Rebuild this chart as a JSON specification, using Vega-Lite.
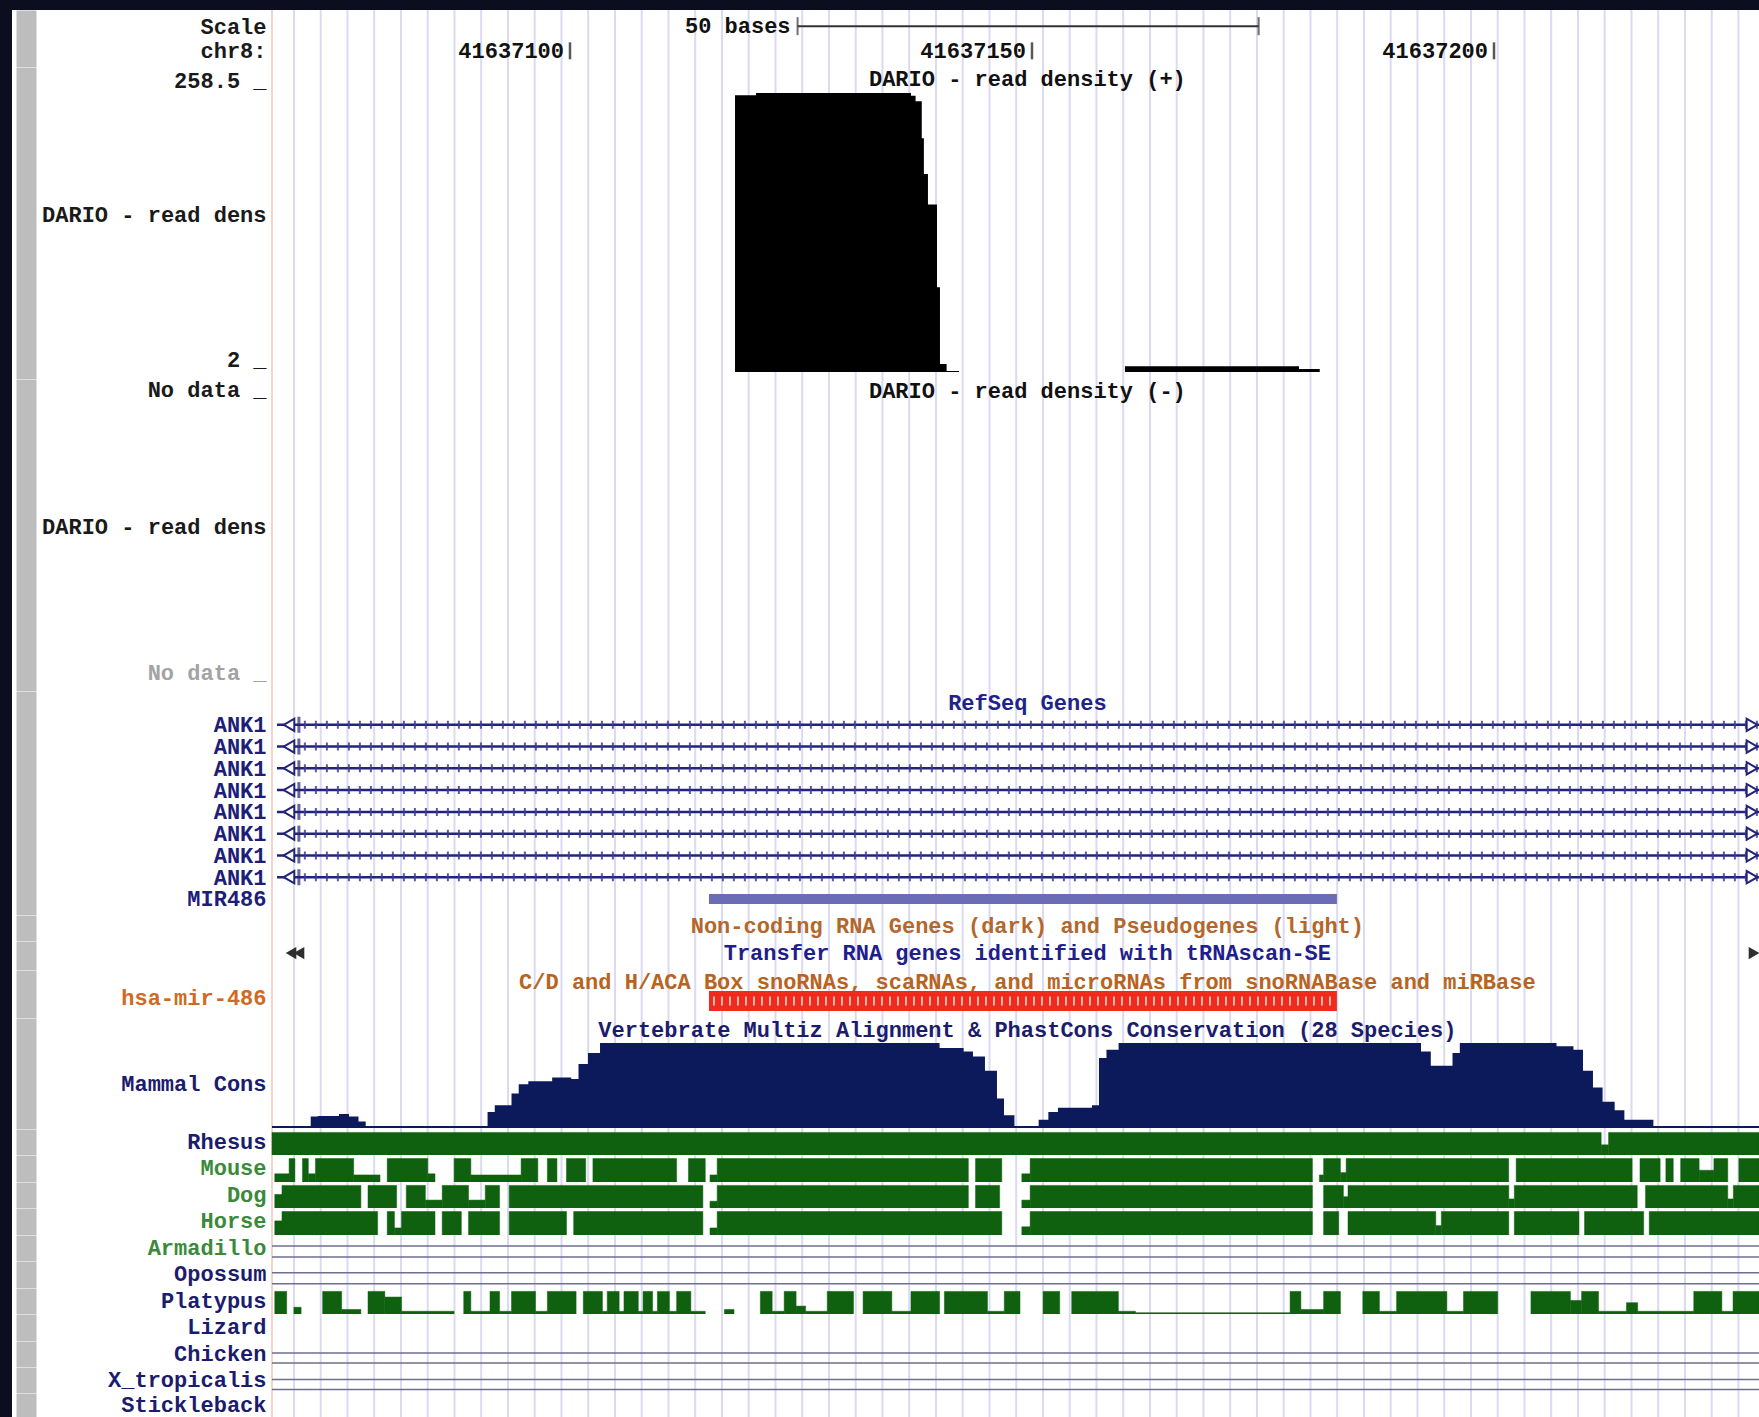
{
"$schema": "https://vega.github.io/schema/vega-lite/v6.json",
"background": "#0d0d20",
"padding": {"left": 12, "top": 9, "right": 0, "bottom": 0},
"spacing": 0,
"bounds": "flush",
"resolve": {"scale": {"x": "independent", "y": "independent"}},
"config": {
  "view": {"fill": "white", "stroke": null},
  "axisX": {"disable": true},
  "axisY": {"offset": -14, "domainWidth": 20, "domainColor": "#bdbdbd", "domainCap": "butt", "ticks": false, "tickSize": 0, "labelPadding": -240, "labelAlign": "right", "labelBaseline": "middle", "labelFont": "Liberation Mono", "labelFontSize": 22, "labelFontWeight": "bold", "labelColor": "#1a1a1a", "labelBound": false, "labelOverlap": false, "labelFlush": false, "labelLimit": 0, "grid": false, "zindex": 1},
  "text": {"font": "Liberation Mono", "fontSize": 22, "fontWeight": "bold", "baseline": "middle"}
},
"datasets": {
  "grid": [{"g":41637070.13},{"g":41637073.02},{"g":41637075.92},{"g":41637078.81},{"g":41637081.71},{"g":41637084.60},{"g":41637087.50},{"g":41637090.39},{"g":41637093.29},{"g":41637096.18},{"g":41637099.08},{"g":41637101.97},{"g":41637104.87},{"g":41637107.76},{"g":41637110.66},{"g":41637113.55},{"g":41637116.45},{"g":41637119.34},{"g":41637122.24},{"g":41637125.13},{"g":41637128.03},{"g":41637130.92},{"g":41637133.82},{"g":41637136.71},{"g":41637139.61},{"g":41637142.50},{"g":41637145.40},{"g":41637148.29},{"g":41637151.19},{"g":41637154.08},{"g":41637156.98},{"g":41637159.87},{"g":41637162.77},{"g":41637165.66},{"g":41637168.56},{"g":41637171.45},{"g":41637174.35},{"g":41637177.24},{"g":41637180.14},{"g":41637183.03},{"g":41637185.93},{"g":41637188.82},{"g":41637191.72},{"g":41637194.61},{"g":41637197.51},{"g":41637200.40},{"g":41637203.30},{"g":41637206.19},{"g":41637209.09},{"g":41637211.98},{"g":41637214.88},{"g":41637217.77},{"g":41637220.67},{"g":41637223.56},{"g":41637226.46}],
  "ruler": [{"p":41637100},{"p":41637150},{"p":41637200}],
  "scalebar": [{"p":41637124.63},{"p":41637174.53}],
  "plus": [
    {"p":41637117.86,"v":256.5},
    {"p":41637120.13,"v":258.5},
    {"p":41637136.90,"v":256},
    {"p":41637137.40,"v":251},
    {"p":41637138.07,"v":217},
    {"p":41637138.30,"v":184},
    {"p":41637138.74,"v":156},
    {"p":41637139.72,"v":80},
    {"p":41637140.04,"v":9.4},
    {"p":41637140.76,"v":3.0},
    {"p":41637142.10,"v":2},
    {"p":41637160.06,"v":7.2},
    {"p":41637178.90,"v":4.7},
    {"p":41637181.14,"v":2}
  ],
  "ank": [{"r":"a1"},{"r":"a2"},{"r":"a3"},{"r":"a4"},{"r":"a5"},{"r":"a6"},{"r":"a7"},{"r":"a8"}],
  "mir": [{"name":"hsa-mir-486","s":41637115.04,"e":41637183.0}],
  "cons": [
    {"p":41637071.94,"v":0.125},{"p":41637072.71,"v":0.13},{"p":41637075.00,"v":0.155},{"p":41637076.08,"v":0.125},
    {"p":41637077.11,"v":0.066},{"p":41637077.89,"v":0},{"p":41637091.08,"v":0.18},{"p":41637091.86,"v":0.26},
    {"p":41637093.67,"v":0.40},{"p":41637094.45,"v":0.51},{"p":41637095.49,"v":0.545},{"p":41637098.07,"v":0.59},
    {"p":41637100.14,"v":0.57},{"p":41637100.92,"v":0.75},{"p":41637101.95,"v":0.88},{"p":41637103.25,"v":1.0},
    {"p":41637140.00,"v":0.94},{"p":41637142.60,"v":0.90},{"p":41637143.61,"v":0.84},{"p":41637144.91,"v":0.67},
    {"p":41637146.21,"v":0.34},{"p":41637146.97,"v":0.14},{"p":41637148.10,"v":0.01},{"p":41637150.72,"v":0.085},
    {"p":41637151.77,"v":0.18},{"p":41637152.81,"v":0.23},{"p":41637156.49,"v":0.26},{"p":41637157.25,"v":0.82},
    {"p":41637158.06,"v":0.92},{"p":41637159.37,"v":1.0},{"p":41637192.10,"v":0.90},{"p":41637193.16,"v":0.73},
    {"p":41637195.51,"v":0.88},{"p":41637196.30,"v":1.0},{"p":41637206.77,"v":0.96},{"p":41637208.60,"v":0.92},
    {"p":41637209.63,"v":0.67},{"p":41637210.71,"v":0.47},{"p":41637211.75,"v":0.30},{"p":41637213.06,"v":0.20},
    {"p":41637214.11,"v":0.085},{"p":41637217.25,"v":0}
  ],
  "species": [
    {"sp":"Rhesus","s":41637067.75,"e":41637211.6,"v":1},
    {"sp":"Rhesus","s":41637211.6,"e":41637212.4,"v":0.45},
    {"sp":"Rhesus","s":41637212.4,"e":41637228.68,"v":1},
    {"sp":"Mouse","s":41637068.05,"e":41637069.60,"v":0.35},
    {"sp":"Mouse","s":41637069.60,"e":41637070.23,"v":1},
    {"sp":"Mouse","s":41637071.05,"e":41637071.68,"v":1},
    {"sp":"Mouse","s":41637071.68,"e":41637072.45,"v":0.35},
    {"sp":"Mouse","s":41637072.45,"e":41637076.59,"v":1},
    {"sp":"Mouse","s":41637076.59,"e":41637079.44,"v":0.3},
    {"sp":"Mouse","s":41637080.22,"e":41637084.61,"v":1},
    {"sp":"Mouse","s":41637084.61,"e":41637085.39,"v":0.35},
    {"sp":"Mouse","s":41637087.46,"e":41637089.27,"v":1},
    {"sp":"Mouse","s":41637089.27,"e":41637094.71,"v":0.3},
    {"sp":"Mouse","s":41637094.71,"e":41637096.52,"v":1},
    {"sp":"Mouse","s":41637097.55,"e":41637098.59,"v":1},
    {"sp":"Mouse","s":41637099.62,"e":41637101.70,"v":1},
    {"sp":"Mouse","s":41637102.48,"e":41637111.54,"v":1},
    {"sp":"Mouse","s":41637112.82,"e":41637114.64,"v":1},
    {"sp":"Mouse","s":41637115.15,"e":41637115.93,"v":0.3},
    {"sp":"Mouse","s":41637115.93,"e":41637143.11,"v":1},
    {"sp":"Mouse","s":41637143.89,"e":41637146.73,"v":1},
    {"sp":"Mouse","s":41637148.9,"e":41637149.8,"v":0.35},
    {"sp":"Mouse","s":41637149.8,"e":41637180.35,"v":1},
    {"sp":"Mouse","s":41637181.1,"e":41637181.56,"v":0.3},
    {"sp":"Mouse","s":41637181.56,"e":41637183.38,"v":1},
    {"sp":"Mouse","s":41637183.38,"e":41637184.0,"v":0.4},
    {"sp":"Mouse","s":41637184.0,"e":41637201.59,"v":1},
    {"sp":"Mouse","s":41637202.4,"e":41637214.95,"v":1},
    {"sp":"Mouse","s":41637215.8,"e":41637217.98,"v":1},
    {"sp":"Mouse","s":41637218.6,"e":41637219.4,"v":1},
    {"sp":"Mouse","s":41637220.2,"e":41637222.2,"v":1},
    {"sp":"Mouse","s":41637222.2,"e":41637223.8,"v":0.5},
    {"sp":"Mouse","s":41637223.8,"e":41637225.3,"v":1},
    {"sp":"Mouse","s":41637226.5,"e":41637228.68,"v":1},
    {"sp":"Dog","s":41637068.05,"e":41637068.83,"v":0.6},
    {"sp":"Dog","s":41637068.83,"e":41637077.37,"v":1},
    {"sp":"Dog","s":41637078.14,"e":41637081.24,"v":1},
    {"sp":"Dog","s":41637082.28,"e":41637084.35,"v":1},
    {"sp":"Dog","s":41637084.35,"e":41637086.17,"v":0.35},
    {"sp":"Dog","s":41637086.17,"e":41637089.02,"v":1},
    {"sp":"Dog","s":41637089.02,"e":41637090.83,"v":0.35},
    {"sp":"Dog","s":41637090.83,"e":41637092.38,"v":1},
    {"sp":"Dog","s":41637093.42,"e":41637114.38,"v":1},
    {"sp":"Dog","s":41637115.15,"e":41637115.93,"v":0.3},
    {"sp":"Dog","s":41637115.93,"e":41637143.11,"v":1},
    {"sp":"Dog","s":41637143.89,"e":41637146.5,"v":1},
    {"sp":"Dog","s":41637148.9,"e":41637149.8,"v":0.35},
    {"sp":"Dog","s":41637149.8,"e":41637180.35,"v":1},
    {"sp":"Dog","s":41637181.56,"e":41637183.7,"v":1},
    {"sp":"Dog","s":41637183.7,"e":41637184.2,"v":0.5},
    {"sp":"Dog","s":41637184.2,"e":41637201.6,"v":1},
    {"sp":"Dog","s":41637201.6,"e":41637202.2,"v":0.4},
    {"sp":"Dog","s":41637202.2,"e":41637215.5,"v":1},
    {"sp":"Dog","s":41637216.4,"e":41637225.3,"v":1},
    {"sp":"Dog","s":41637225.3,"e":41637225.9,"v":0.4},
    {"sp":"Dog","s":41637225.9,"e":41637228.68,"v":1},
    {"sp":"Horse","s":41637068.05,"e":41637068.83,"v":0.6},
    {"sp":"Horse","s":41637068.83,"e":41637079.18,"v":1},
    {"sp":"Horse","s":41637080.22,"e":41637081.0,"v":1},
    {"sp":"Horse","s":41637081.0,"e":41637081.77,"v":0.3},
    {"sp":"Horse","s":41637081.77,"e":41637085.39,"v":1},
    {"sp":"Horse","s":41637086.17,"e":41637088.24,"v":1},
    {"sp":"Horse","s":41637089.02,"e":41637092.38,"v":1},
    {"sp":"Horse","s":41637093.42,"e":41637099.62,"v":1},
    {"sp":"Horse","s":41637100.40,"e":41637114.38,"v":1},
    {"sp":"Horse","s":41637115.15,"e":41637115.93,"v":0.3},
    {"sp":"Horse","s":41637115.93,"e":41637146.73,"v":1},
    {"sp":"Horse","s":41637148.9,"e":41637149.8,"v":0.35},
    {"sp":"Horse","s":41637149.8,"e":41637180.35,"v":1},
    {"sp":"Horse","s":41637181.56,"e":41637183.2,"v":1},
    {"sp":"Horse","s":41637184.2,"e":41637193.7,"v":1},
    {"sp":"Horse","s":41637193.7,"e":41637194.3,"v":0.4},
    {"sp":"Horse","s":41637194.3,"e":41637201.6,"v":1},
    {"sp":"Horse","s":41637202.2,"e":41637209.2,"v":1},
    {"sp":"Horse","s":41637209.8,"e":41637216.2,"v":1},
    {"sp":"Horse","s":41637216.8,"e":41637228.68,"v":1},
    {"sp":"Platypus","s":41637068.05,"e":41637069.34,"v":1},
    {"sp":"Platypus","s":41637070.12,"e":41637070.90,"v":0.3},
    {"sp":"Platypus","s":41637073.23,"e":41637075.29,"v":1},
    {"sp":"Platypus","s":41637075.29,"e":41637077.37,"v":0.2},
    {"sp":"Platypus","s":41637078.14,"e":41637079.96,"v":1},
    {"sp":"Platypus","s":41637079.96,"e":41637081.77,"v":0.75},
    {"sp":"Platypus","s":41637081.77,"e":41637087.46,"v":0.12},
    {"sp":"Platypus","s":41637088.50,"e":41637089.27,"v":1},
    {"sp":"Platypus","s":41637089.27,"e":41637091.34,"v":0.12},
    {"sp":"Platypus","s":41637091.34,"e":41637092.38,"v":1},
    {"sp":"Platypus","s":41637092.38,"e":41637093.67,"v":0.12},
    {"sp":"Platypus","s":41637093.67,"e":41637096.27,"v":1},
    {"sp":"Platypus","s":41637096.27,"e":41637097.55,"v":0.12},
    {"sp":"Platypus","s":41637097.55,"e":41637100.66,"v":1},
    {"sp":"Platypus","s":41637101.44,"e":41637103.51,"v":1},
    {"sp":"Platypus","s":41637103.51,"e":41637104.03,"v":0.12},
    {"sp":"Platypus","s":41637104.03,"e":41637105.32,"v":1},
    {"sp":"Platypus","s":41637105.32,"e":41637105.84,"v":0.12},
    {"sp":"Platypus","s":41637105.84,"e":41637107.39,"v":1},
    {"sp":"Platypus","s":41637107.39,"e":41637107.91,"v":0.12},
    {"sp":"Platypus","s":41637107.91,"e":41637108.94,"v":1},
    {"sp":"Platypus","s":41637108.94,"e":41637109.46,"v":0.12},
    {"sp":"Platypus","s":41637109.46,"e":41637110.76,"v":1},
    {"sp":"Platypus","s":41637110.76,"e":41637111.54,"v":0.12},
    {"sp":"Platypus","s":41637111.54,"e":41637113.08,"v":1},
    {"sp":"Platypus","s":41637113.08,"e":41637114.64,"v":0.12},
    {"sp":"Platypus","s":41637116.71,"e":41637117.75,"v":0.2},
    {"sp":"Platypus","s":41637120.60,"e":41637121.88,"v":1},
    {"sp":"Platypus","s":41637121.88,"e":41637123.18,"v":0.12},
    {"sp":"Platypus","s":41637123.18,"e":41637124.47,"v":1},
    {"sp":"Platypus","s":41637124.47,"e":41637125.50,"v":0.35},
    {"sp":"Platypus","s":41637125.50,"e":41637127.84,"v":0.12},
    {"sp":"Platypus","s":41637127.84,"e":41637130.68,"v":1},
    {"sp":"Platypus","s":41637131.72,"e":41637134.83,"v":1},
    {"sp":"Platypus","s":41637134.83,"e":41637136.90,"v":0.12},
    {"sp":"Platypus","s":41637136.90,"e":41637140.00,"v":1},
    {"sp":"Platypus","s":41637140.52,"e":41637145.18,"v":1},
    {"sp":"Platypus","s":41637145.18,"e":41637147.00,"v":0.12},
    {"sp":"Platypus","s":41637147.00,"e":41637148.70,"v":1},
    {"sp":"Platypus","s":41637151.20,"e":41637153.00,"v":1},
    {"sp":"Platypus","s":41637154.30,"e":41637159.35,"v":1},
    {"sp":"Platypus","s":41637159.35,"e":41637161.20,"v":0.12},
    {"sp":"Platypus","s":41637161.20,"e":41637177.93,"v":0.06},
    {"sp":"Platypus","s":41637177.93,"e":41637179.10,"v":1},
    {"sp":"Platypus","s":41637179.10,"e":41637181.56,"v":0.2},
    {"sp":"Platypus","s":41637181.56,"e":41637183.38,"v":1},
    {"sp":"Platypus","s":41637185.80,"e":41637187.60,"v":1},
    {"sp":"Platypus","s":41637187.60,"e":41637189.46,"v":0.12},
    {"sp":"Platypus","s":41637189.46,"e":41637194.90,"v":1},
    {"sp":"Platypus","s":41637194.90,"e":41637196.70,"v":0.12},
    {"sp":"Platypus","s":41637196.70,"e":41637200.40,"v":1},
    {"sp":"Platypus","s":41637204.00,"e":41637208.27,"v":1},
    {"sp":"Platypus","s":41637208.27,"e":41637209.48,"v":0.6},
    {"sp":"Platypus","s":41637209.48,"e":41637211.31,"v":1},
    {"sp":"Platypus","s":41637211.31,"e":41637214.34,"v":0.12},
    {"sp":"Platypus","s":41637214.34,"e":41637215.55,"v":0.5},
    {"sp":"Platypus","s":41637215.55,"e":41637221.62,"v":0.12},
    {"sp":"Platypus","s":41637221.62,"e":41637224.66,"v":1},
    {"sp":"Platypus","s":41637224.66,"e":41637225.87,"v":0.12},
    {"sp":"Platypus","s":41637225.87,"e":41637228.68,"v":1}
  ]
},
"vconcat": [
  {
    "width": 1747, "height": 57,
    "layer": [
      {"data": {"name": "grid"}, "mark": {"type": "rule", "color": "#dadaf3", "strokeWidth": 2}, "encoding": {"x": {"field": "g", "type": "quantitative", "scale": {"domain": [41637067.75, 41637228.68], "range": [260, 1747], "nice": false, "zero": false}}}},
      {"data": {"values": [{}]}, "mark": {"type": "rule", "color": "#f3c5b9", "strokeWidth": 1.5}, "encoding": {"x": {"datum": 41637067.75, "type": "quantitative", "scale": {"domain": [41637067.75, 41637228.68], "range": [260, 1747], "nice": false, "zero": false}}}},
      {"data": {"values": [{"t": "50 bases"}]}, "mark": {"type": "text", "align": "right", "dx": -7, "color": "#111"},
       "encoding": {"x": {"datum": 41637124.63, "type": "quantitative", "scale": {"domain": [41637067.75, 41637228.68], "range": [260, 1747], "nice": false, "zero": false}},
                    "y": {"datum": "Scale", "type": "nominal", "title": null, "scale": {"type": "point", "domain": ["Scale", "chr8:"], "padding": 0.654}},
                    "text": {"field": "t"}}},
      {"data": {"values": [{}]}, "mark": {"type": "rule", "color": "#333", "strokeWidth": 2},
       "encoding": {"x": {"datum": 41637124.63, "type": "quantitative", "scale": {"domain": [41637067.75, 41637228.68], "range": [260, 1747], "nice": false, "zero": false}},
                    "x2": {"datum": 41637174.53},
                    "y": {"datum": "Scale", "type": "nominal", "title": null, "scale": {"type": "point", "domain": ["Scale", "chr8:"], "padding": 0.654}}}},
      {"data": {"name": "scalebar"}, "mark": {"type": "tick", "color": "#333", "thickness": 2, "size": 18},
       "encoding": {"x": {"field": "p", "type": "quantitative", "scale": {"domain": [41637067.75, 41637228.68], "range": [260, 1747], "nice": false, "zero": false}},
                    "y": {"datum": "Scale", "type": "nominal", "title": null, "scale": {"type": "point", "domain": ["Scale", "chr8:"], "padding": 0.654}}}},
      {"data": {"name": "ruler"}, "mark": {"type": "text", "align": "right", "dx": -6, "color": "#111"},
       "encoding": {"x": {"field": "p", "type": "quantitative", "scale": {"domain": [41637067.75, 41637228.68], "range": [260, 1747], "nice": false, "zero": false}},
                    "y": {"datum": "chr8:", "type": "nominal", "title": null, "scale": {"type": "point", "domain": ["Scale", "chr8:"], "padding": 0.654}},
                    "text": {"field": "p", "type": "quantitative", "format": "d"}}},
      {"data": {"name": "ruler"}, "mark": {"type": "tick", "color": "#111", "thickness": 2.5, "size": 17},
       "encoding": {"x": {"field": "p", "type": "quantitative", "scale": {"domain": [41637067.75, 41637228.68], "range": [260, 1747], "nice": false, "zero": false}},
                    "y": {"datum": "chr8:", "type": "nominal", "title": null, "scale": {"type": "point", "domain": ["Scale", "chr8:"], "padding": 0.654}}}}
    ]
  },
  {
    "width": 1747, "height": 312,
    "layer": [
      {"data": {"name": "grid"}, "mark": {"type": "rule", "color": "#dadaf3", "strokeWidth": 2}, "encoding": {"x": {"field": "g", "type": "quantitative", "scale": {"domain": [41637067.75, 41637228.68], "range": [260, 1747], "nice": false, "zero": false}}}},
      {"data": {"values": [{}]}, "mark": {"type": "rule", "color": "#f3c5b9", "strokeWidth": 1.5}, "encoding": {"x": {"datum": 41637067.75, "type": "quantitative", "scale": {"domain": [41637067.75, 41637228.68], "range": [260, 1747], "nice": false, "zero": false}}}},
      {"data": {"name": "plus"}, "mark": {"type": "area", "color": "#000000", "interpolate": "step-after", "opacity": 1},
       "encoding": {"x": {"field": "p", "type": "quantitative", "scale": {"domain": [41637067.75, 41637228.68], "range": [260, 1747], "nice": false, "zero": false}},
                    "y": {"field": "v", "type": "quantitative", "title": null, "scale": {"domain": [-4.44, 282.4], "nice": false, "zero": false},
                          "axis": {"values": [2, 136, 258.5], "labelOffset": -12, "labelExpr": "datum.value == 2 ? '2 _' : datum.value == 258.5 ? '258.5 _' : 'DARIO - read dens'"}},
                    "y2": {"datum": 2}}},
      {"data": {"values": [{"t": "DARIO - read density (+)"}]}, "mark": {"type": "text", "color": "#111"},
       "encoding": {"x": {"datum": 41637149.5, "type": "quantitative", "scale": {"domain": [41637067.75, 41637228.68], "range": [260, 1747], "nice": false, "zero": false}},
                    "y": {"datum": 271, "type": "quantitative", "title": null, "scale": {"domain": [-4.44, 282.4], "nice": false, "zero": false}},
                    "text": {"field": "t"}}}
    ]
  },
  {
    "width": 1747, "height": 312,
    "layer": [
      {"data": {"name": "grid"}, "mark": {"type": "rule", "color": "#dadaf3", "strokeWidth": 2}, "encoding": {"x": {"field": "g", "type": "quantitative", "scale": {"domain": [41637067.75, 41637228.68], "range": [260, 1747], "nice": false, "zero": false}}}},
      {"data": {"values": [{}]}, "mark": {"type": "rule", "color": "#f3c5b9", "strokeWidth": 1.5}, "encoding": {"x": {"datum": 41637067.75, "type": "quantitative", "scale": {"domain": [41637067.75, 41637228.68], "range": [260, 1747], "nice": false, "zero": false}}}},
      {"data": {"values": [{"t": "DARIO - read density (-)"}]}, "mark": {"type": "text", "color": "#111"},
       "encoding": {"x": {"datum": 41637149.5, "type": "quantitative", "scale": {"domain": [41637067.75, 41637228.68], "range": [260, 1747], "nice": false, "zero": false}},
                    "y": {"datum": 271, "type": "quantitative", "title": null, "scale": {"domain": [-4.44, 282.4], "nice": false, "zero": false},
                          "axis": {"values": [273.2, 147.2, 13], "labelExpr": "datum.value > 200 || datum.value < 100 ? 'No data _' : 'DARIO - read dens'",
                                   "labelColor": {"condition": {"test": "datum.value < 100", "value": "#a3a3a3"}, "value": "#1a1a1a"}}},
                    "text": {"field": "t"}}}
    ]
  },
  {
    "width": 1747, "height": 224,
    "layer": [
      {"data": {"name": "grid"}, "mark": {"type": "rule", "color": "#dadaf3", "strokeWidth": 2}, "encoding": {"x": {"field": "g", "type": "quantitative", "scale": {"domain": [41637067.75, 41637228.68], "range": [260, 1747], "nice": false, "zero": false}}}},
      {"data": {"values": [{}]}, "mark": {"type": "rule", "color": "#f3c5b9", "strokeWidth": 1.5}, "encoding": {"x": {"datum": 41637067.75, "type": "quantitative", "scale": {"domain": [41637067.75, 41637228.68], "range": [260, 1747], "nice": false, "zero": false}}}},
      {"data": {"values": [{"t": "RefSeq Genes"}]}, "mark": {"type": "text", "color": "#22228c"},
       "encoding": {"x": {"datum": 41637149.5, "type": "quantitative", "scale": {"domain": [41637067.75, 41637228.68], "range": [260, 1747], "nice": false, "zero": false}},
                    "y": {"datum": "title", "type": "nominal", "title": null, "scale": {"type": "point", "domain": ["title","a1","a2","a3","a4","a5","a6","a7","a8","mir"], "padding": 0.643, "align": 0.4286},
                          "axis": {"labelExpr": "datum.value == 'title' ? '' : datum.value == 'mir' ? 'MIR486' : 'ANK1'", "labelColor": "#1e1e78"}},
                    "text": {"field": "t"}}},
      {"data": {"name": "ank"}, "mark": {"type": "rule", "color": "#23237a", "strokeWidth": 2.5},
       "encoding": {"x": {"datum": 41637068.29, "type": "quantitative", "scale": {"domain": [41637067.75, 41637228.68], "range": [260, 1747], "nice": false, "zero": false}},
                    "x2": {"datum": 41637228.68},
                    "y": {"field": "r", "type": "nominal", "title": null, "scale": {"type": "point", "domain": ["title","a1","a2","a3","a4","a5","a6","a7","a8","mir"], "padding": 0.643, "align": 0.4286}}}},
      {"data": {"name": "ank"}, "mark": {"type": "rule", "color": "#3c3c98", "strokeWidth": 8, "strokeDash": [2, 9], "opacity": 0.85},
       "encoding": {"x": {"datum": 41637071.2, "type": "quantitative", "scale": {"domain": [41637067.75, 41637228.68], "range": [260, 1747], "nice": false, "zero": false}},
                    "x2": {"datum": 41637228.68},
                    "y": {"field": "r", "type": "nominal", "title": null, "scale": {"type": "point", "domain": ["title","a1","a2","a3","a4","a5","a6","a7","a8","mir"], "padding": 0.643, "align": 0.4286}}}},
      {"data": {"name": "ank"}, "mark": {"type": "point", "shape": "triangle-left", "size": 150, "filled": true, "fill": "white", "stroke": "#23237a", "strokeWidth": 2, "opacity": 1},
       "encoding": {"x": {"datum": 41637069.59, "type": "quantitative", "scale": {"domain": [41637067.75, 41637228.68], "range": [260, 1747], "nice": false, "zero": false}},
                    "y": {"field": "r", "type": "nominal", "title": null, "scale": {"type": "point", "domain": ["title","a1","a2","a3","a4","a5","a6","a7","a8","mir"], "padding": 0.643, "align": 0.4286}}}},
      {"data": {"name": "ank"}, "mark": {"type": "tick", "color": "#23237a", "thickness": 3, "size": 16},
       "encoding": {"x": {"datum": 41637070.66, "type": "quantitative", "scale": {"domain": [41637067.75, 41637228.68], "range": [260, 1747], "nice": false, "zero": false}},
                    "y": {"field": "r", "type": "nominal", "title": null, "scale": {"type": "point", "domain": ["title","a1","a2","a3","a4","a5","a6","a7","a8","mir"], "padding": 0.643, "align": 0.4286}}}},
      {"data": {"name": "ank"}, "mark": {"type": "point", "shape": "triangle-right", "size": 150, "filled": true, "fill": "white", "stroke": "#23237a", "strokeWidth": 2, "opacity": 1},
       "encoding": {"x": {"datum": 41637227.92, "type": "quantitative", "scale": {"domain": [41637067.75, 41637228.68], "range": [260, 1747], "nice": false, "zero": false}},
                    "y": {"field": "r", "type": "nominal", "title": null, "scale": {"type": "point", "domain": ["title","a1","a2","a3","a4","a5","a6","a7","a8","mir"], "padding": 0.643, "align": 0.4286}}}},
      {"data": {"name": "mir"}, "mark": {"type": "rule", "color": "#6b6cb6", "strokeWidth": 10},
       "encoding": {"x": {"field": "s", "type": "quantitative", "scale": {"domain": [41637067.75, 41637228.68], "range": [260, 1747], "nice": false, "zero": false}},
                    "x2": {"field": "e"},
                    "y": {"datum": "mir", "type": "nominal", "title": null, "scale": {"type": "point", "domain": ["title","a1","a2","a3","a4","a5","a6","a7","a8","mir"], "padding": 0.643, "align": 0.4286}}}}
    ]
  },
  {
    "width": 1747, "height": 26,
    "layer": [
      {"data": {"name": "grid"}, "mark": {"type": "rule", "color": "#dadaf3", "strokeWidth": 2}, "encoding": {"x": {"field": "g", "type": "quantitative", "scale": {"domain": [41637067.75, 41637228.68], "range": [260, 1747], "nice": false, "zero": false}}}},
      {"data": {"values": [{}]}, "mark": {"type": "rule", "color": "#f3c5b9", "strokeWidth": 1.5}, "encoding": {"x": {"datum": 41637067.75, "type": "quantitative", "scale": {"domain": [41637067.75, 41637228.68], "range": [260, 1747], "nice": false, "zero": false}}}},
      {"data": {"values": [{"t": "Non-coding RNA Genes (dark) and Pseudogenes (light)"}]}, "mark": {"type": "text", "color": "#b3672b"},
       "encoding": {"x": {"datum": 41637149.5, "type": "quantitative", "scale": {"domain": [41637067.75, 41637228.68], "range": [260, 1747], "nice": false, "zero": false}},
                    "y": {"datum": 0.56, "type": "quantitative", "title": null, "scale": {"domain": [0, 1], "nice": false, "zero": false}, "axis": {"values": [], "labels": false}},
                    "text": {"field": "t"}}}
    ]
  },
  {
    "width": 1747, "height": 29,
    "layer": [
      {"data": {"name": "grid"}, "mark": {"type": "rule", "color": "#dadaf3", "strokeWidth": 2}, "encoding": {"x": {"field": "g", "type": "quantitative", "scale": {"domain": [41637067.75, 41637228.68], "range": [260, 1747], "nice": false, "zero": false}}}},
      {"data": {"values": [{}]}, "mark": {"type": "rule", "color": "#f3c5b9", "strokeWidth": 1.5}, "encoding": {"x": {"datum": 41637067.75, "type": "quantitative", "scale": {"domain": [41637067.75, 41637228.68], "range": [260, 1747], "nice": false, "zero": false}}}},
      {"data": {"values": [{"t": "Transfer RNA genes identified with tRNAscan-SE"}]}, "mark": {"type": "text", "color": "#1e1e8c"},
       "encoding": {"x": {"datum": 41637149.5, "type": "quantitative", "scale": {"domain": [41637067.75, 41637228.68], "range": [260, 1747], "nice": false, "zero": false}},
                    "y": {"datum": 0.586, "type": "quantitative", "title": null, "scale": {"domain": [0, 1], "nice": false, "zero": false}, "axis": {"values": [], "labels": false}},
                    "text": {"field": "t"}}},
      {"data": {"values": [{"p": 41637069.81}, {"p": 41637070.67}]}, "mark": {"type": "point", "shape": "triangle-left", "size": 150, "filled": true, "color": "#2e2e2e", "opacity": 1},
       "encoding": {"x": {"field": "p", "type": "quantitative", "scale": {"domain": [41637067.75, 41637228.68], "range": [260, 1747], "nice": false, "zero": false}},
                    "y": {"datum": 0.586, "type": "quantitative", "title": null, "scale": {"domain": [0, 1], "nice": false, "zero": false}}}},
      {"data": {"values": [{"p": 41637228.14}]}, "mark": {"type": "point", "shape": "triangle-right", "size": 150, "filled": true, "color": "#2e2e2e", "opacity": 1},
       "encoding": {"x": {"field": "p", "type": "quantitative", "scale": {"domain": [41637067.75, 41637228.68], "range": [260, 1747], "nice": false, "zero": false}},
                    "y": {"datum": 0.586, "type": "quantitative", "title": null, "scale": {"domain": [0, 1], "nice": false, "zero": false}}}}
    ]
  },
  {
    "width": 1747, "height": 48,
    "layer": [
      {"data": {"name": "grid"}, "mark": {"type": "rule", "color": "#dadaf3", "strokeWidth": 2}, "encoding": {"x": {"field": "g", "type": "quantitative", "scale": {"domain": [41637067.75, 41637228.68], "range": [260, 1747], "nice": false, "zero": false}}}},
      {"data": {"values": [{}]}, "mark": {"type": "rule", "color": "#f3c5b9", "strokeWidth": 1.5}, "encoding": {"x": {"datum": 41637067.75, "type": "quantitative", "scale": {"domain": [41637067.75, 41637228.68], "range": [260, 1747], "nice": false, "zero": false}}}},
      {"data": {"values": [{"t": "C/D and H/ACA Box snoRNAs, scaRNAs, and microRNAs from snoRNABase and miRBase"}]}, "mark": {"type": "text", "color": "#b8641e"},
       "encoding": {"x": {"datum": 41637149.5, "type": "quantitative", "scale": {"domain": [41637067.75, 41637228.68], "range": [260, 1747], "nice": false, "zero": false}},
                    "y": {"datum": 0.76, "type": "quantitative", "title": null, "scale": {"domain": [0, 1], "nice": false, "zero": false},
                          "axis": {"values": [0.417], "labelExpr": "'hsa-mir-486'", "labelColor": "#d2691e"}},
                    "text": {"field": "t"}}},
      {"data": {"name": "mir"}, "mark": {"type": "rect", "color": "#ee2b1c"},
       "encoding": {"x": {"field": "s", "type": "quantitative", "scale": {"domain": [41637067.75, 41637228.68], "range": [260, 1747], "nice": false, "zero": false}},
                    "x2": {"field": "e"},
                    "y": {"datum": 0.5625, "type": "quantitative", "title": null, "scale": {"domain": [0, 1], "nice": false, "zero": false}},
                    "y2": {"datum": 0.146}}},
      {"data": {"name": "mir"}, "mark": {"type": "rule", "color": "#ffffff", "strokeWidth": 9, "strokeDash": [1.5, 6.5], "opacity": 0.85},
       "encoding": {"x": {"datum": 41637115.5, "type": "quantitative", "scale": {"domain": [41637067.75, 41637228.68], "range": [260, 1747], "nice": false, "zero": false}},
                    "x2": {"datum": 41637182.6},
                    "y": {"datum": 0.354, "type": "quantitative", "title": null, "scale": {"domain": [0, 1], "nice": false, "zero": false}}}}
    ]
  },
  {
    "width": 1747, "height": 111,
    "layer": [
      {"data": {"name": "grid"}, "mark": {"type": "rule", "color": "#dadaf3", "strokeWidth": 2}, "encoding": {"x": {"field": "g", "type": "quantitative", "scale": {"domain": [41637067.75, 41637228.68], "range": [260, 1747], "nice": false, "zero": false}}}},
      {"data": {"values": [{}]}, "mark": {"type": "rule", "color": "#f3c5b9", "strokeWidth": 1.5}, "encoding": {"x": {"datum": 41637067.75, "type": "quantitative", "scale": {"domain": [41637067.75, 41637228.68], "range": [260, 1747], "nice": false, "zero": false}}}},
      {"data": {"name": "cons"}, "mark": {"type": "area", "color": "#0c1a5c", "interpolate": "step-after", "opacity": 1},
       "encoding": {"x": {"field": "p", "type": "quantitative", "scale": {"domain": [41637067.75, 41637228.68], "range": [260, 1747], "nice": false, "zero": false}},
                    "y": {"field": "v", "type": "quantitative", "title": null, "scale": {"domain": [-0.0238, 1.2976], "nice": false, "zero": false},
                          "axis": {"values": [0.517], "labelExpr": "'Mammal Cons'", "labelColor": "#1c1c6e"}},
                    "y2": {"datum": 0}}},
      {"data": {"values": [{}]}, "mark": {"type": "rule", "color": "#0c1a5c", "strokeWidth": 2},
       "encoding": {"x": {"datum": 41637067.75, "type": "quantitative", "scale": {"domain": [41637067.75, 41637228.68], "range": [260, 1747], "nice": false, "zero": false}},
                    "x2": {"datum": 41637228.68},
                    "y": {"datum": 0, "type": "quantitative", "title": null, "scale": {"domain": [-0.0238, 1.2976], "nice": false, "zero": false}}}},
      {"data": {"values": [{"t": "Vertebrate Multiz Alignment & PhastCons Conservation (28 Species)"}]}, "mark": {"type": "text", "color": "#1c1c6e"},
       "encoding": {"x": {"datum": 41637149.5, "type": "quantitative", "scale": {"domain": [41637067.75, 41637228.68], "range": [260, 1747], "nice": false, "zero": false}},
                    "y": {"datum": 1.158, "type": "quantitative", "title": null, "scale": {"domain": [-0.0238, 1.2976], "nice": false, "zero": false}},
                    "text": {"field": "t"}}}
    ]
  },
  {
    "width": 1747, "height": 26,
    "layer": [
      {"data": {"name": "grid"}, "mark": {"type": "rule", "color": "#dadaf3", "strokeWidth": 2}, "encoding": {"x": {"field": "g", "type": "quantitative", "scale": {"domain": [41637067.75, 41637228.68], "range": [260, 1747], "nice": false, "zero": false}}}},
      {"data": {"values": [{}]}, "mark": {"type": "rule", "color": "#f3c5b9", "strokeWidth": 1.5},
       "encoding": {"x": {"datum": 41637067.75, "type": "quantitative", "scale": {"domain": [41637067.75, 41637228.68], "range": [260, 1747], "nice": false, "zero": false}},
                    "y": {"datum": 0, "type": "quantitative", "title": null, "scale": {"domain": [0, 1.15], "nice": false, "zero": false}, "axis": {"values": [0.6], "labelExpr": "'Rhesus'", "labelColor": "#1c1c6e"}},
                    "y2": {"datum": 1.15}}},
      {"data": {"name": "species"}, "transform": [{"filter": "datum.sp == 'Rhesus'"}], "mark": {"type": "rect", "color": "#0f600f", "stroke": "#0f600f", "strokeWidth": 0.5},
       "encoding": {"x": {"field": "s", "type": "quantitative", "scale": {"domain": [41637067.75, 41637228.68], "range": [260, 1747], "nice": false, "zero": false}},
                    "x2": {"field": "e"},
                    "y": {"field": "v", "type": "quantitative", "title": null, "scale": {"domain": [0, 1.15], "nice": false, "zero": false}},
                    "y2": {"datum": 0}}}
    ]
  },
  {
    "width": 1747, "height": 27,
    "layer": [
      {"data": {"name": "grid"}, "mark": {"type": "rule", "color": "#dadaf3", "strokeWidth": 2}, "encoding": {"x": {"field": "g", "type": "quantitative", "scale": {"domain": [41637067.75, 41637228.68], "range": [260, 1747], "nice": false, "zero": false}}}},
      {"data": {"values": [{}]}, "mark": {"type": "rule", "color": "#f3c5b9", "strokeWidth": 1.5},
       "encoding": {"x": {"datum": 41637067.75, "type": "quantitative", "scale": {"domain": [41637067.75, 41637228.68], "range": [260, 1747], "nice": false, "zero": false}},
                    "y": {"datum": 0, "type": "quantitative", "title": null, "scale": {"domain": [0, 1.15], "nice": false, "zero": false}, "axis": {"values": [0.6], "labelExpr": "'Mouse'", "labelColor": "#3b8a3b"}},
                    "y2": {"datum": 1.15}}},
      {"data": {"name": "species"}, "transform": [{"filter": "datum.sp == 'Mouse'"}], "mark": {"type": "rect", "color": "#0f600f", "stroke": "#0f600f", "strokeWidth": 0.5},
       "encoding": {"x": {"field": "s", "type": "quantitative", "scale": {"domain": [41637067.75, 41637228.68], "range": [260, 1747], "nice": false, "zero": false}},
                    "x2": {"field": "e"},
                    "y": {"field": "v", "type": "quantitative", "title": null, "scale": {"domain": [0, 1.15], "nice": false, "zero": false}},
                    "y2": {"datum": 0}}}
    ]
  },
  {
    "width": 1747, "height": 26,
    "layer": [
      {"data": {"name": "grid"}, "mark": {"type": "rule", "color": "#dadaf3", "strokeWidth": 2}, "encoding": {"x": {"field": "g", "type": "quantitative", "scale": {"domain": [41637067.75, 41637228.68], "range": [260, 1747], "nice": false, "zero": false}}}},
      {"data": {"values": [{}]}, "mark": {"type": "rule", "color": "#f3c5b9", "strokeWidth": 1.5},
       "encoding": {"x": {"datum": 41637067.75, "type": "quantitative", "scale": {"domain": [41637067.75, 41637228.68], "range": [260, 1747], "nice": false, "zero": false}},
                    "y": {"datum": 0, "type": "quantitative", "title": null, "scale": {"domain": [0, 1.15], "nice": false, "zero": false}, "axis": {"values": [0.6], "labelExpr": "'Dog'", "labelColor": "#3b8a3b"}},
                    "y2": {"datum": 1.15}}},
      {"data": {"name": "species"}, "transform": [{"filter": "datum.sp == 'Dog'"}], "mark": {"type": "rect", "color": "#0f600f", "stroke": "#0f600f", "strokeWidth": 0.5},
       "encoding": {"x": {"field": "s", "type": "quantitative", "scale": {"domain": [41637067.75, 41637228.68], "range": [260, 1747], "nice": false, "zero": false}},
                    "x2": {"field": "e"},
                    "y": {"field": "v", "type": "quantitative", "title": null, "scale": {"domain": [0, 1.15], "nice": false, "zero": false}},
                    "y2": {"datum": 0}}}
    ]
  },
  {
    "width": 1747, "height": 27,
    "layer": [
      {"data": {"name": "grid"}, "mark": {"type": "rule", "color": "#dadaf3", "strokeWidth": 2}, "encoding": {"x": {"field": "g", "type": "quantitative", "scale": {"domain": [41637067.75, 41637228.68], "range": [260, 1747], "nice": false, "zero": false}}}},
      {"data": {"values": [{}]}, "mark": {"type": "rule", "color": "#f3c5b9", "strokeWidth": 1.5},
       "encoding": {"x": {"datum": 41637067.75, "type": "quantitative", "scale": {"domain": [41637067.75, 41637228.68], "range": [260, 1747], "nice": false, "zero": false}},
                    "y": {"datum": 0, "type": "quantitative", "title": null, "scale": {"domain": [0, 1.15], "nice": false, "zero": false}, "axis": {"values": [0.6], "labelExpr": "'Horse'", "labelColor": "#3b8a3b"}},
                    "y2": {"datum": 1.15}}},
      {"data": {"name": "species"}, "transform": [{"filter": "datum.sp == 'Horse'"}], "mark": {"type": "rect", "color": "#0f600f", "stroke": "#0f600f", "strokeWidth": 0.5},
       "encoding": {"x": {"field": "s", "type": "quantitative", "scale": {"domain": [41637067.75, 41637228.68], "range": [260, 1747], "nice": false, "zero": false}},
                    "x2": {"field": "e"},
                    "y": {"field": "v", "type": "quantitative", "title": null, "scale": {"domain": [0, 1.15], "nice": false, "zero": false}},
                    "y2": {"datum": 0}}}
    ]
  },
  {
    "width": 1747, "height": 26,
    "layer": [
      {"data": {"name": "grid"}, "mark": {"type": "rule", "color": "#dadaf3", "strokeWidth": 2}, "encoding": {"x": {"field": "g", "type": "quantitative", "scale": {"domain": [41637067.75, 41637228.68], "range": [260, 1747], "nice": false, "zero": false}}}},
      {"data": {"values": [{}]}, "mark": {"type": "rule", "color": "#f3c5b9", "strokeWidth": 1.5},
       "encoding": {"x": {"datum": 41637067.75, "type": "quantitative", "scale": {"domain": [41637067.75, 41637228.68], "range": [260, 1747], "nice": false, "zero": false}},
                    "y": {"datum": 0, "type": "quantitative", "title": null, "scale": {"domain": [0, 1.15], "nice": false, "zero": false}, "axis": {"values": [0.6], "labelExpr": "'Armadillo'", "labelColor": "#3b8a3b"}},
                    "y2": {"datum": 1.15}}},
      {"data": {"values": [{}]}, "mark": {"type": "rule", "color": "#6e6e8e", "strokeWidth": 1.5},
       "encoding": {"x": {"datum": 41637067.75, "type": "quantitative", "scale": {"domain": [41637067.75, 41637228.68], "range": [260, 1747], "nice": false, "zero": false}},
                    "x2": {"datum": 41637228.68},
                    "y": {"datum": 0.663, "type": "quantitative", "title": null, "scale": {"domain": [0, 1.15], "nice": false, "zero": false}}}},
      {"data": {"values": [{}]}, "mark": {"type": "rule", "color": "#6e6e8e", "strokeWidth": 1.5},
       "encoding": {"x": {"datum": 41637067.75, "type": "quantitative", "scale": {"domain": [41637067.75, 41637228.68], "range": [260, 1747], "nice": false, "zero": false}},
                    "x2": {"datum": 41637228.68},
                    "y": {"datum": 0.177, "type": "quantitative", "title": null, "scale": {"domain": [0, 1.15], "nice": false, "zero": false}}}}
    ]
  },
  {
    "width": 1747, "height": 27,
    "layer": [
      {"data": {"name": "grid"}, "mark": {"type": "rule", "color": "#dadaf3", "strokeWidth": 2}, "encoding": {"x": {"field": "g", "type": "quantitative", "scale": {"domain": [41637067.75, 41637228.68], "range": [260, 1747], "nice": false, "zero": false}}}},
      {"data": {"values": [{}]}, "mark": {"type": "rule", "color": "#f3c5b9", "strokeWidth": 1.5},
       "encoding": {"x": {"datum": 41637067.75, "type": "quantitative", "scale": {"domain": [41637067.75, 41637228.68], "range": [260, 1747], "nice": false, "zero": false}},
                    "y": {"datum": 0, "type": "quantitative", "title": null, "scale": {"domain": [0, 1.15], "nice": false, "zero": false}, "axis": {"values": [0.6], "labelExpr": "'Opossum'", "labelColor": "#1c1c6e"}},
                    "y2": {"datum": 1.15}}},
      {"data": {"values": [{}]}, "mark": {"type": "rule", "color": "#6e6e8e", "strokeWidth": 1.5},
       "encoding": {"x": {"datum": 41637067.75, "type": "quantitative", "scale": {"domain": [41637067.75, 41637228.68], "range": [260, 1747], "nice": false, "zero": false}},
                    "x2": {"datum": 41637228.68},
                    "y": {"datum": 0.652, "type": "quantitative", "title": null, "scale": {"domain": [0, 1.15], "nice": false, "zero": false}}}},
      {"data": {"values": [{}]}, "mark": {"type": "rule", "color": "#6e6e8e", "strokeWidth": 1.5},
       "encoding": {"x": {"datum": 41637067.75, "type": "quantitative", "scale": {"domain": [41637067.75, 41637228.68], "range": [260, 1747], "nice": false, "zero": false}},
                    "x2": {"datum": 41637228.68},
                    "y": {"datum": 0.183, "type": "quantitative", "title": null, "scale": {"domain": [0, 1.15], "nice": false, "zero": false}}}}
    ]
  },
  {
    "width": 1747, "height": 26,
    "layer": [
      {"data": {"name": "grid"}, "mark": {"type": "rule", "color": "#dadaf3", "strokeWidth": 2}, "encoding": {"x": {"field": "g", "type": "quantitative", "scale": {"domain": [41637067.75, 41637228.68], "range": [260, 1747], "nice": false, "zero": false}}}},
      {"data": {"values": [{}]}, "mark": {"type": "rule", "color": "#f3c5b9", "strokeWidth": 1.5},
       "encoding": {"x": {"datum": 41637067.75, "type": "quantitative", "scale": {"domain": [41637067.75, 41637228.68], "range": [260, 1747], "nice": false, "zero": false}},
                    "y": {"datum": 0, "type": "quantitative", "title": null, "scale": {"domain": [0, 1.15], "nice": false, "zero": false}, "axis": {"values": [0.6], "labelExpr": "'Platypus'", "labelColor": "#1c1c6e"}},
                    "y2": {"datum": 1.15}}},
      {"data": {"name": "species"}, "transform": [{"filter": "datum.sp == 'Platypus'"}], "mark": {"type": "rect", "color": "#0f600f", "stroke": "#0f600f", "strokeWidth": 0.5},
       "encoding": {"x": {"field": "s", "type": "quantitative", "scale": {"domain": [41637067.75, 41637228.68], "range": [260, 1747], "nice": false, "zero": false}},
                    "x2": {"field": "e"},
                    "y": {"field": "v", "type": "quantitative", "title": null, "scale": {"domain": [0, 1.15], "nice": false, "zero": false}},
                    "y2": {"datum": 0}}}
    ]
  },
  {
    "width": 1747, "height": 27,
    "layer": [
      {"data": {"name": "grid"}, "mark": {"type": "rule", "color": "#dadaf3", "strokeWidth": 2}, "encoding": {"x": {"field": "g", "type": "quantitative", "scale": {"domain": [41637067.75, 41637228.68], "range": [260, 1747], "nice": false, "zero": false}}}},
      {"data": {"values": [{}]}, "mark": {"type": "rule", "color": "#f3c5b9", "strokeWidth": 1.5},
       "encoding": {"x": {"datum": 41637067.75, "type": "quantitative", "scale": {"domain": [41637067.75, 41637228.68], "range": [260, 1747], "nice": false, "zero": false}},
                    "y": {"datum": 0, "type": "quantitative", "title": null, "scale": {"domain": [0, 1.15], "nice": false, "zero": false}, "axis": {"values": [0.6], "labelExpr": "'Lizard'", "labelColor": "#1c1c6e"}},
                    "y2": {"datum": 1.15}}}
    ]
  },
  {
    "width": 1747, "height": 26,
    "layer": [
      {"data": {"name": "grid"}, "mark": {"type": "rule", "color": "#dadaf3", "strokeWidth": 2}, "encoding": {"x": {"field": "g", "type": "quantitative", "scale": {"domain": [41637067.75, 41637228.68], "range": [260, 1747], "nice": false, "zero": false}}}},
      {"data": {"values": [{}]}, "mark": {"type": "rule", "color": "#f3c5b9", "strokeWidth": 1.5},
       "encoding": {"x": {"datum": 41637067.75, "type": "quantitative", "scale": {"domain": [41637067.75, 41637228.68], "range": [260, 1747], "nice": false, "zero": false}},
                    "y": {"datum": 0, "type": "quantitative", "title": null, "scale": {"domain": [0, 1.15], "nice": false, "zero": false}, "axis": {"values": [0.6], "labelExpr": "'Chicken'", "labelColor": "#1c1c6e"}},
                    "y2": {"datum": 1.15}}},
      {"data": {"values": [{}]}, "mark": {"type": "rule", "color": "#6e6e8e", "strokeWidth": 1.5},
       "encoding": {"x": {"datum": 41637067.75, "type": "quantitative", "scale": {"domain": [41637067.75, 41637228.68], "range": [260, 1747], "nice": false, "zero": false}},
                    "x2": {"datum": 41637228.68},
                    "y": {"datum": 0.619, "type": "quantitative", "title": null, "scale": {"domain": [0, 1.15], "nice": false, "zero": false}}}},
      {"data": {"values": [{}]}, "mark": {"type": "rule", "color": "#6e6e8e", "strokeWidth": 1.5},
       "encoding": {"x": {"datum": 41637067.75, "type": "quantitative", "scale": {"domain": [41637067.75, 41637228.68], "range": [260, 1747], "nice": false, "zero": false}},
                    "x2": {"datum": 41637228.68},
                    "y": {"datum": 0.177, "type": "quantitative", "title": null, "scale": {"domain": [0, 1.15], "nice": false, "zero": false}}}}
    ]
  },
  {
    "width": 1747, "height": 26,
    "layer": [
      {"data": {"name": "grid"}, "mark": {"type": "rule", "color": "#dadaf3", "strokeWidth": 2}, "encoding": {"x": {"field": "g", "type": "quantitative", "scale": {"domain": [41637067.75, 41637228.68], "range": [260, 1747], "nice": false, "zero": false}}}},
      {"data": {"values": [{}]}, "mark": {"type": "rule", "color": "#f3c5b9", "strokeWidth": 1.5},
       "encoding": {"x": {"datum": 41637067.75, "type": "quantitative", "scale": {"domain": [41637067.75, 41637228.68], "range": [260, 1747], "nice": false, "zero": false}},
                    "y": {"datum": 0, "type": "quantitative", "title": null, "scale": {"domain": [0, 1.15], "nice": false, "zero": false}, "axis": {"values": [0.6], "labelExpr": "'X_tropicalis'", "labelColor": "#1c1c6e"}},
                    "y2": {"datum": 1.15}}},
      {"data": {"values": [{}]}, "mark": {"type": "rule", "color": "#6e6e8e", "strokeWidth": 1.5},
       "encoding": {"x": {"datum": 41637067.75, "type": "quantitative", "scale": {"domain": [41637067.75, 41637228.68], "range": [260, 1747], "nice": false, "zero": false}},
                    "x2": {"datum": 41637228.68},
                    "y": {"datum": 0.593, "type": "quantitative", "title": null, "scale": {"domain": [0, 1.15], "nice": false, "zero": false}}}},
      {"data": {"values": [{}]}, "mark": {"type": "rule", "color": "#6e6e8e", "strokeWidth": 1.5},
       "encoding": {"x": {"datum": 41637067.75, "type": "quantitative", "scale": {"domain": [41637067.75, 41637228.68], "range": [260, 1747], "nice": false, "zero": false}},
                    "x2": {"datum": 41637228.68},
                    "y": {"datum": 0.15, "type": "quantitative", "title": null, "scale": {"domain": [0, 1.15], "nice": false, "zero": false}}}}
    ]
  },
  {
    "width": 1747, "height": 25,
    "layer": [
      {"data": {"name": "grid"}, "mark": {"type": "rule", "color": "#dadaf3", "strokeWidth": 2}, "encoding": {"x": {"field": "g", "type": "quantitative", "scale": {"domain": [41637067.75, 41637228.68], "range": [260, 1747], "nice": false, "zero": false}}}},
      {"data": {"values": [{}]}, "mark": {"type": "rule", "color": "#f3c5b9", "strokeWidth": 1.5},
       "encoding": {"x": {"datum": 41637067.75, "type": "quantitative", "scale": {"domain": [41637067.75, 41637228.68], "range": [260, 1747], "nice": false, "zero": false}},
                    "y": {"datum": 0, "type": "quantitative", "title": null, "scale": {"domain": [0, 1.15], "nice": false, "zero": false}, "axis": {"values": [0.6], "labelExpr": "'Stickleback'", "labelColor": "#1c1c6e"}},
                    "y2": {"datum": 1.15}}}
    ]
  }
]
}
